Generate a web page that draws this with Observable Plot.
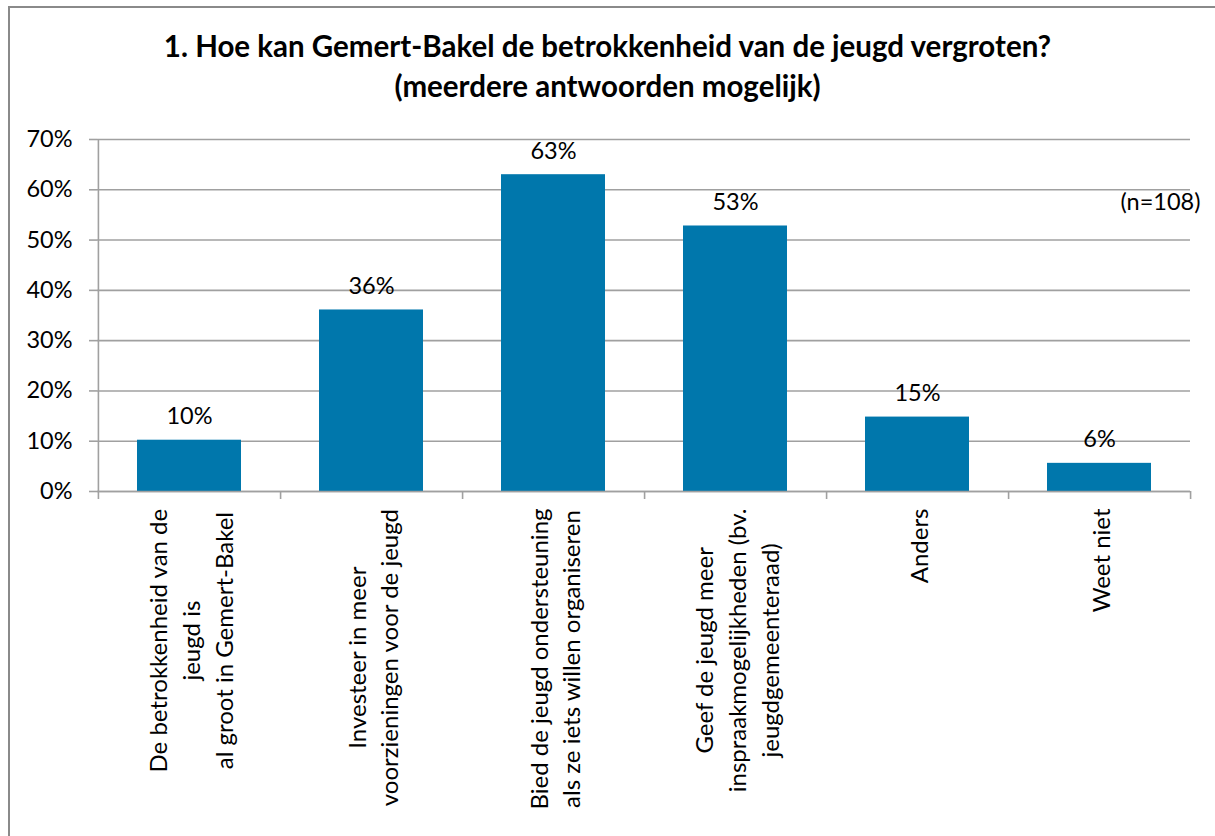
<!DOCTYPE html>
<html><head><meta charset="utf-8">
<script src="https://cdn.jsdelivr.net/npm/d3@7"></script>
<script src="https://cdn.jsdelivr.net/npm/@observablehq/plot@0.6"></script>
<style>
body{margin:0;background:#fff;overflow:hidden;font-family:Lato,sans-serif;width:1215px;height:836px;position:relative;}
#frame{position:absolute;left:8px;top:6px;width:1240px;height:880px;border:2px solid #8a8a8a;}
#title{position:absolute;left:0;top:26px;width:1215px;text-align:center;font-weight:bold;font-size:29.5px;line-height:40px;color:#000;}
#chart{position:absolute;left:0;top:110px;}
</style></head>
<body>
<div id="frame"></div>
<div id="title"></div>
<div id="chart"></div>
<script>
const titleLines = ["1. Hoe kan Gemert-Bakel de betrokkenheid van de jeugd vergroten?", "(meerdere antwoorden mogelijk)"];
const categories = [
  "De betrokkenheid van de\njeugd is\nal groot in Gemert-Bakel",
  "Investeer in meer\nvoorzieningen voor de jeugd",
  "Bied de jeugd ondersteuning\nals ze iets willen organiseren",
  "Geef de jeugd meer\ninspraakmogelijkheden (bv.\njeugdgemeenteraad)",
  "Anders",
  "Weet niet"
];
const shares = [0.102, 0.361, 0.630, 0.528, 0.148, 0.056];
const yTicks = [0, 0.1, 0.2, 0.3, 0.4, 0.5, 0.6, 0.7];
const sampleNote = "(n=108)";

const data = categories.map((c, i) => ({category: c, share: shares[i]}));
const pct = d3.format(".0%");

document.getElementById("title").innerHTML = titleLines.map(t => `<div>${t}</div>`).join("");

const W = 1215, H = 726, ML = 97, MR = 25, MT = 29, MB = 345;
const FS = 23.5;
const LFS = 24;
const step = (W - ML - MR) / categories.length;
const barColor = "#0077ac";
const gridColor = "#a0a0a0";

const ctx = document.createElement("canvas").getContext("2d");
ctx.font = `${LFS}px Lato`;
const longest = categories.map(c => Math.max(...c.split("\n").map(l => ctx.measureText(l).width)));

const labelMarks = categories.map((c, i) => Plot.text([c], {
  x: d => d, frameAnchor: "bottom", text: d => d, rotate: -90,
  textAnchor: "middle", lineAnchor: "middle", lineHeight: 1.37,
  fontSize: LFS, fill: "#000", dy: 17 + longest[i] / 2
}));

const chart = Plot.plot({
  width: W, height: H,
  marginLeft: ML, marginRight: MR, marginTop: MT, marginBottom: MB,
  style: {fontFamily: "Lato, sans-serif", fontSize: FS + "px", color: "#000", background: "transparent"},
  x: {domain: categories, paddingInner: 0.43, paddingOuter: 0.215, axis: null},
  y: {domain: [0, 0.7], axis: null},
  marks: [
    Plot.gridY(yTicks, {stroke: gridColor, strokeOpacity: 1, strokeWidth: 1.6}),
    Plot.axisY(yTicks, {tickFormat: pct, tickSize: 8, tickPadding: 17, label: null, stroke: gridColor, strokeWidth: 1.6, fontSize: FS, fill: "#000"}),
    Plot.barY(data, {x: "category", y: "share", fill: barColor}),
    Plot.ruleY([0], {stroke: gridColor, strokeWidth: 1.6}),
    Plot.ruleX([categories[0]], {x: d => d, dx: -step / 2, stroke: gridColor, strokeWidth: 1.6}),
    Plot.ruleX(categories, {x: d => d, y1: 0, y2: 0, dx: step / 2, insetBottom: -8, stroke: gridColor, strokeWidth: 1.6}),
    Plot.ruleX([categories[0]], {x: d => d, y1: 0, y2: 0, dx: -step / 2, insetBottom: -8, stroke: gridColor, strokeWidth: 1.6}),
    Plot.text(data, {x: "category", y: "share", text: d => pct(d.share), lineAnchor: "bottom", dy: -16, fontSize: FS, fill: "#000"}),
    Plot.text([sampleNote], {frameAnchor: "top-right", text: d => d, textAnchor: "end", lineAnchor: "middle", dx: 10, dy: 63, fontSize: FS, fill: "#000"}),
    ...labelMarks
  ]
});
document.getElementById("chart").appendChild(chart);
</script>
</body></html>
